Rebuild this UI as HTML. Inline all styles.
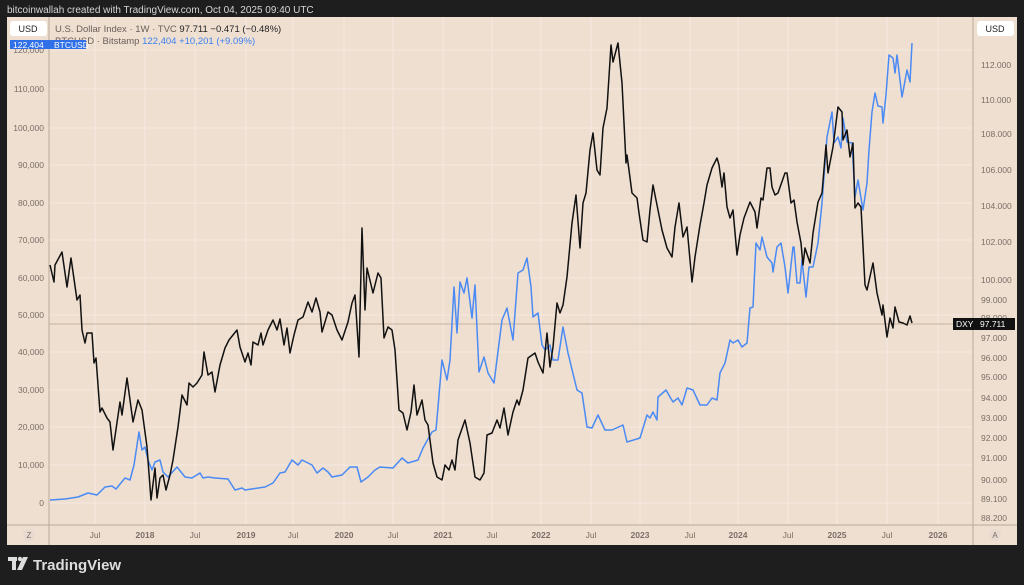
<!DOCTYPE html>
<html><head><meta charset="utf-8"><style>
html,body{margin:0;padding:0;background:#1e1e1e;width:1024px;height:585px;overflow:hidden;font-family:"Liberation Sans",sans-serif}
</style></head><body>
<svg width="1024" height="585" xmlns="http://www.w3.org/2000/svg" font-family="Liberation Sans, sans-serif">
<rect width="1024" height="585" fill="#1e1e1e"/>
<text x="7" y="13" fill="#d6d6d6" font-size="10">bitcoinwallah created with TradingView.com, Oct 04, 2025 09:40 UTC</text>
<rect x="7" y="17" width="1010" height="528" fill="#efdfd1"/>
<g stroke="#f5e9de" stroke-width="1">
<line x1="49" x2="973" y1="50" y2="50"/><line x1="49" x2="973" y1="89" y2="89"/><line x1="49" x2="973" y1="128" y2="128"/><line x1="49" x2="973" y1="165" y2="165"/><line x1="49" x2="973" y1="203" y2="203"/><line x1="49" x2="973" y1="240" y2="240"/><line x1="49" x2="973" y1="278" y2="278"/><line x1="49" x2="973" y1="315" y2="315"/><line x1="49" x2="973" y1="352" y2="352"/><line x1="49" x2="973" y1="390" y2="390"/><line x1="49" x2="973" y1="427" y2="427"/><line x1="49" x2="973" y1="465" y2="465"/><line x1="49" x2="973" y1="503" y2="503"/>
<line y1="17" y2="525" x1="95" x2="95"/><line y1="17" y2="525" x1="145" x2="145"/><line y1="17" y2="525" x1="195" x2="195"/><line y1="17" y2="525" x1="246" x2="246"/><line y1="17" y2="525" x1="293" x2="293"/><line y1="17" y2="525" x1="344" x2="344"/><line y1="17" y2="525" x1="393" x2="393"/><line y1="17" y2="525" x1="443" x2="443"/><line y1="17" y2="525" x1="492" x2="492"/><line y1="17" y2="525" x1="541" x2="541"/><line y1="17" y2="525" x1="591" x2="591"/><line y1="17" y2="525" x1="640" x2="640"/><line y1="17" y2="525" x1="690" x2="690"/><line y1="17" y2="525" x1="738" x2="738"/><line y1="17" y2="525" x1="788" x2="788"/><line y1="17" y2="525" x1="837" x2="837"/><line y1="17" y2="525" x1="887" x2="887"/><line y1="17" y2="525" x1="938" x2="938"/>
</g>
<line x1="49" y1="17" x2="49" y2="545" stroke="#b8a898"/>
<line x1="973" y1="17" x2="973" y2="545" stroke="#b8a898"/>
<line x1="7" y1="525" x2="1017" y2="525" stroke="#b8a898"/>
<line x1="49" y1="324" x2="973" y2="324" stroke="#c9b09c" stroke-width="1"/>
<polyline fill="none" stroke="#4a8af4" stroke-width="1.5" stroke-linejoin="round" points="50,500 65,499 78,497 88,493 97,495 105,487 112,486 116,489 125,478 130,480 134,465 139,432 142,450 145,447 148,460 152,470 155,462 160,460 163,472 168,477 177,467 185,477 192,478 200,473 203,478 208,477 215,478 228,479 235,490 242,488 245,490 265,487 273,483 280,473 285,472 292,460 298,465 302,460 312,465 317,473 323,468 328,472 332,477 342,475 350,467 357,467 361,482 368,477 375,470 380,467 393,468 402,458 408,463 418,460 423,448 432,432 436,430 438,407 442,360 447,380 450,360 454,287 457,333 460,282 464,293 467,278 472,318 475,285 479,372 484,357 488,373 494,383 502,320 507,308 513,340 518,273 523,270 527,258 531,287 533,317 538,313 542,345 545,350 550,345 553,360 558,360 563,327 568,353 577,390 582,393 587,427 592,428 598,415 605,430 612,430 623,425 627,442 640,438 647,415 650,418 653,412 657,420 658,397 666,390 670,397 673,402 678,398 682,405 687,388 693,390 700,405 707,405 712,398 717,400 720,373 725,363 730,340 733,343 738,340 742,347 747,343 750,308 753,307 756,243 760,250 762,237 767,257 772,263 773,272 777,247 781,243 785,267 788,293 793,247 794,247 797,283 800,283 802,260 806,297 809,267 813,267 818,243 822,203 827,137 832,112 834,143 838,137 841,148 843,118 847,142 852,143 855,197 858,180 863,210 867,183 869,150 872,112 875,93 878,106 882,107 883,123 886,95 889,55 893,58 895,73 897,55 902,97 907,70 910,82 912,43"/>
<polyline fill="none" stroke="#111" stroke-width="1.5" stroke-linejoin="round" points="50,265 54,282 55,265 62,252 67,287 71,258 77,300 80,295 82,330 85,343 87,333 92,333 94,363 96,358 100,412 102,408 107,418 110,422 113,450 120,402 122,415 127,378 133,422 138,400 142,410 147,447 151,500 155,468 157,498 160,478 163,475 166,490 170,475 173,460 178,427 182,395 187,405 189,383 193,387 197,383 202,375 204,352 208,375 212,372 215,392 220,365 225,348 229,340 233,335 237,330 240,347 245,362 248,353 251,365 253,342 258,345 261,333 263,345 268,330 273,320 277,330 280,319 284,345 287,328 290,353 294,335 298,320 303,317 308,302 312,312 316,298 320,312 322,332 328,312 332,315 337,330 342,340 348,322 352,303 355,295 359,357 362,228 365,310 367,268 373,293 378,273 381,278 384,338 388,327 392,330 395,350 399,410 403,413 407,430 411,412 414,385 417,415 422,400 425,420 428,425 433,463 437,477 442,480 445,465 449,470 452,460 455,470 458,440 465,420 470,443 475,477 480,480 484,473 487,435 492,433 497,420 500,428 504,408 508,435 513,412 517,400 519,405 523,390 528,358 535,353 538,362 543,373 547,333 550,367 553,347 557,303 560,313 563,305 567,277 572,223 576,195 580,248 583,203 586,193 590,150 593,133 597,170 600,175 603,128 607,108 611,45 613,62 618,43 622,83 626,163 627,155 632,193 637,198 639,213 643,240 647,242 650,210 653,185 658,210 662,230 667,248 672,257 675,227 679,203 683,237 687,227 692,282 695,257 700,225 704,203 707,185 712,168 717,158 719,165 722,187 724,173 727,207 730,218 733,210 737,255 740,235 744,218 750,202 755,212 757,228 761,198 763,200 767,168 770,168 772,187 775,195 778,193 785,173 787,173 791,203 794,200 797,222 801,243 803,265 805,248 810,263 813,233 818,202 822,193 826,145 828,173 833,147 838,107 842,112 843,140 847,130 850,157 853,143 855,208 858,203 861,207 865,285 867,290 873,263 877,293 882,315 883,305 887,337 890,318 893,328 895,307 899,322 903,323 907,325 910,316 912,323"/>
<g font-size="8.5" fill="#7a6e66" text-anchor="end">
<text x="44" y="53">120,000</text><text x="44" y="92">110,000</text><text x="44" y="131">100,000</text><text x="44" y="168">90,000</text><text x="44" y="206">80,000</text><text x="44" y="243">70,000</text><text x="44" y="281">60,000</text><text x="44" y="318">50,000</text><text x="44" y="355">40,000</text><text x="44" y="393">30,000</text><text x="44" y="430">20,000</text><text x="44" y="468">10,000</text><text x="44" y="506">0</text>
</g>
<g font-size="8.5" fill="#7a6e66">
<text x="981" y="68">112.000</text><text x="981" y="103">110.000</text><text x="981" y="137">108.000</text><text x="981" y="173">106.000</text><text x="981" y="209">104.000</text><text x="981" y="245">102.000</text><text x="981" y="283">100.000</text><text x="981" y="303">99.000</text><text x="981" y="321">98.000</text><text x="981" y="341">97.000</text><text x="981" y="361">96.000</text><text x="981" y="380">95.000</text><text x="981" y="401">94.000</text><text x="981" y="421">93.000</text><text x="981" y="441">92.000</text><text x="981" y="461">91.000</text><text x="981" y="483">90.000</text><text x="981" y="502">89.100</text><text x="981" y="521">88.200</text>
</g>
<rect x="953" y="318" width="62" height="12" fill="#111"/>
<text x="956" y="327" font-size="8.5" fill="#fff">DXY</text><text x="980" y="327" font-size="8.5" fill="#fff">97.711</text>
<g font-size="8.5" fill="#7a6e66" text-anchor="middle">
<text x="95" y="538">Jul</text><text x="145" y="538" font-weight="bold">2018</text><text x="195" y="538">Jul</text><text x="246" y="538" font-weight="bold">2019</text><text x="293" y="538">Jul</text><text x="344" y="538" font-weight="bold">2020</text><text x="393" y="538">Jul</text><text x="443" y="538" font-weight="bold">2021</text><text x="492" y="538">Jul</text><text x="541" y="538" font-weight="bold">2022</text><text x="591" y="538">Jul</text><text x="640" y="538" font-weight="bold">2023</text><text x="690" y="538">Jul</text><text x="738" y="538" font-weight="bold">2024</text><text x="788" y="538">Jul</text><text x="837" y="538" font-weight="bold">2025</text><text x="887" y="538">Jul</text><text x="938" y="538" font-weight="bold">2026</text>
</g>
<circle cx="29" cy="535" r="6" fill="#e8dad0"/><text x="29" y="538" font-size="8" fill="#7a6e66" text-anchor="middle">Z</text>
<circle cx="995" cy="535" r="6" fill="#e8dad0"/><text x="995" y="538" font-size="8" fill="#7a6e66" text-anchor="middle">A</text>
<rect x="10" y="21" width="37" height="15" rx="3" fill="#fff"/><text x="28" y="32" font-size="9" fill="#222" text-anchor="middle">USD</text>
<rect x="977" y="21" width="37" height="15" rx="3" fill="#fff"/><text x="995" y="32" font-size="9" fill="#222" text-anchor="middle">USD</text>
<text x="55" y="32" font-size="9.5" fill="#6a5f58">U.S. Dollar Index · 1W · TVC <tspan fill="#222">97.711</tspan> <tspan fill="#222">−0.471 (−0.48%)</tspan></text>
<text x="55" y="44" font-size="9.5" fill="#6a5f58">BTCUSD · Bitstamp <tspan fill="#3b7ff0">122,404</tspan> <tspan fill="#3b7ff0">+10,201 (+9.09%)</tspan></text>
<rect x="10" y="40" width="76" height="9" fill="#2f6fe8"/><text x="13" y="48" font-size="8.5" fill="#fff">122,404</text><text x="54" y="48" font-size="8.5" fill="#fff">BTCUSD</text>
<g fill="#ddd"><rect x="8" y="557" width="9" height="4"/><rect x="12" y="557" width="4" height="13"/><circle cx="20" cy="559" r="2.2"/><polygon points="23,557 28,557 22,570 17,570"/></g>
<text x="33" y="570" font-size="15" fill="#ddd" font-weight="bold">TradingView</text>
</svg>
</body></html>
